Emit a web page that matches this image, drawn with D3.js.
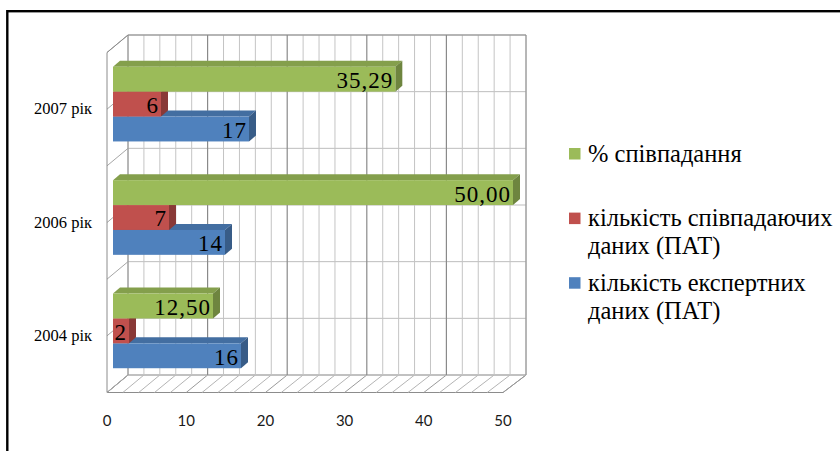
<!DOCTYPE html>
<html>
<head>
<meta charset="utf-8">
<script src="https://cdn.jsdelivr.net/npm/d3@7"></script>
<style>
  body { margin: 0; background: #fff; }
  svg { display: block; }
  .serif { font-family: "Liberation Serif", "DejaVu Serif", serif; }
</style>
</head>
<body>
<div id="chart"></div>
<script>
const CATEGORIES = ["2007 рік", "2006 рік", "2004 рік"];
const SERIES = ["% співпадання", "кількість співпадаючих даних (ПАТ)", "кількість експертних даних (ПАТ)"];
const LEGEND_LINES = [["% співпадання"], ["кількість співпадаючих", "даних (ПАТ)"], ["кількість експертних", "даних (ПАТ)"]];
const COLORS = ["#9BBB59", "#C0504D", "#4F81BD"];
// values per series, in CATEGORIES order
const PERCENT = [35.29, 50.00, 12.50];
const MATCHED = [6, 7, 2];
const EXPERT = [17, 14, 16];
const LABELS = [["35,29", "50,00", "12,50"], ["6", "7", "2"], ["17", "14", "16"]];
const X_TICKS = [0, 10, 20, 30, 40, 50];

const W = 840, H = 451;
const DX = 21, DY = 17.5;      // depth of the plot box
const BDX = 7, BDY = 6;        // depth of a bar
const WALL_TOP = 35, WALL_BOTTOM = 375;

const svg = d3.select("#chart").append("svg")
  .attr("width", W).attr("height", H);

const xBack = d3.scaleLinear().domain([0, 50]).range([128, 526]);
const xFront = d3.scaleLinear().domain([0, 50]).range([107, 503]);
const xBar = d3.scaleLinear().domain([0, 50]).range([113, 513]);

const yWall = d3.scaleBand().domain(CATEGORIES).range([WALL_TOP, WALL_BOTTOM]);

// --- walls and floor ---
const grid = svg.append("g");
const ticks = xBack.ticks(25);

// floor
grid.append("path")
  .attr("d", `M${xFront(0)},${WALL_BOTTOM + DY}L${xFront(50)},${WALL_BOTTOM + DY}L${xBack(50)},${WALL_BOTTOM}L${xBack(0)},${WALL_BOTTOM}Z`)
  .attr("fill", "#fff").attr("stroke", "#8c8c8c");
grid.selectAll(".hatch").data(ticks).enter().append("line")
  .attr("x1", d => xFront(d)).attr("y1", WALL_BOTTOM + DY)
  .attr("x2", d => xBack(d)).attr("y2", WALL_BOTTOM)
  .attr("stroke", d => d % 10 === 0 ? "#9a9a9a" : "#b4b4b4");

// back wall horizontal lines (category bounds and mid lines)
const hLines = [];
CATEGORIES.forEach(c => { hLines.push(yWall(c)); hLines.push(yWall(c) + yWall.bandwidth() / 2); });
hLines.push(WALL_BOTTOM);
grid.selectAll(".hline").data(hLines).enter().append("line")
  .attr("x1", xBack(0)).attr("x2", xBack(50))
  .attr("y1", d => d).attr("y2", d => d)
  .attr("stroke", "#bdbdbd");
// left wall diagonals
grid.selectAll(".diag").data(hLines).enter().append("line")
  .attr("x1", xFront(0)).attr("y1", d => d + DY)
  .attr("x2", xBack(0)).attr("y2", d => d)
  .attr("stroke", "#a6a6a6");

// back wall vertical lines
grid.selectAll(".vline").data(ticks).enter().append("line")
  .attr("x1", d => xBack(d)).attr("x2", d => xBack(d))
  .attr("y1", WALL_TOP).attr("y2", WALL_BOTTOM)
  .attr("stroke", d => (d % 10 === 0 && d > 0 && d < 50) ? "#8a8a8a" : "#c4c4c4")
  .attr("stroke-width", d => (d % 10 === 0 && d > 0 && d < 50) ? 1.2 : 1);

// box edges
grid.append("path")
  .attr("d", `M${xFront(0)},${WALL_BOTTOM + DY}L${xFront(0)},${WALL_TOP + DY}L${xBack(0)},${WALL_TOP}L${xBack(0)},${WALL_BOTTOM}`
    + `M${xBack(0)},${WALL_TOP}L${xBack(50)},${WALL_TOP}L${xBack(50)},${WALL_BOTTOM}`)
  .attr("fill", "none").attr("stroke", "#8c8c8c");

// --- bars ---
const shift = DY * (xBar(0) - xFront(0)) / DX;
const yCat = d3.scaleBand().domain(CATEGORIES)
  .range([WALL_TOP + DY - shift, WALL_BOTTOM + DY - shift])
  .paddingInner(0.3415).paddingOuter(0.17);
const ySer = d3.scaleBand().domain(SERIES).range([0, yCat.bandwidth()]);

const values = [PERCENT, MATCHED, EXPERT];
const bars = [];
CATEGORIES.forEach((c, ci) => {
  // draw lower bars first so upper ones overlap their top faces
  for (let si = SERIES.length - 1; si >= 0; si--) {
    bars.push({ cat: c, si: si, v: values[si][ci], label: LABELS[si][ci] });
  }
});

const barG = svg.append("g");
bars.forEach(b => {
  const x0 = xBar(0), x1 = xBar(b.v);
  const y = yCat(b.cat) + ySer(SERIES[b.si]);
  const h = ySer.bandwidth();
  const base = d3.color(COLORS[b.si]);
  const g = barG.append("g");
  g.append("path")
    .attr("d", `M${x0},${y}L${x1},${y}L${x1 + BDX},${y - BDY}L${x0 + BDX},${y - BDY}Z`)
    .attr("fill", base.darker(0.45));
  g.append("path")
    .attr("d", `M${x1},${y}L${x1 + BDX},${y - BDY}L${x1 + BDX},${y + h - BDY}L${x1},${y + h}Z`)
    .attr("fill", base.darker(0.95));
  g.append("rect")
    .attr("x", x0).attr("y", y).attr("width", x1 - x0).attr("height", h)
    .attr("fill", base);
  g.append("text")
    .attr("class", "serif")
    .attr("x", x1 - 2).attr("y", y + h - 3.5)
    .attr("text-anchor", "end")
    .attr("font-size", 23)
    .attr("letter-spacing", 1)
    .attr("fill", "#000")
    .text(b.label);
});

// --- category labels ---
svg.selectAll(".cat").data(CATEGORIES).enter().append("text")
  .attr("class", "serif")
  .attr("x", 92)
  .attr("y", d => yWall(d) + DY + yWall.bandwidth() / 2 + 5)
  .attr("text-anchor", "end")
  .attr("font-size", 16.5)
  .attr("fill", "#000")
  .text(d => d);

// --- value axis labels ---
svg.selectAll(".xt").data(X_TICKS).enter().append("text")
  .attr("x", d => xFront(d))
  .attr("y", 425.5)
  .attr("text-anchor", "middle")
  .attr("font-family", "Lato, sans-serif")
  .attr("font-size", 15)
  .attr("fill", "#1a1a1a")
  .text(d => d);

// --- legend ---
const yLeg = d3.scalePoint().domain(SERIES).range([161.5, 290.7]);
const leg = svg.append("g");
SERIES.forEach((s, i) => {
  const y = yLeg(s);
  leg.append("rect")
    .attr("x", 569).attr("y", y - 13.5)
    .attr("width", 11.5).attr("height", 11.5)
    .attr("fill", COLORS[i]);
  leg.append("text")
    .attr("class", "serif")
    .attr("x", 588).attr("y", y)
    .attr("font-size", 24.5)
    .attr("fill", "#000")
    .selectAll("tspan").data(LEGEND_LINES[i]).enter().append("tspan")
    .attr("x", 588).attr("dy", (d, j) => j === 0 ? 0 : 28)
    .text(d => d);
});

// --- outer frame ---
svg.append("rect")
  .attr("x", 7.3).attr("y", 11.2)
  .attr("width", W).attr("height", H)
  .attr("fill", "none").attr("stroke", "#000").attr("stroke-width", 2.4);
</script>
</body>
</html>
